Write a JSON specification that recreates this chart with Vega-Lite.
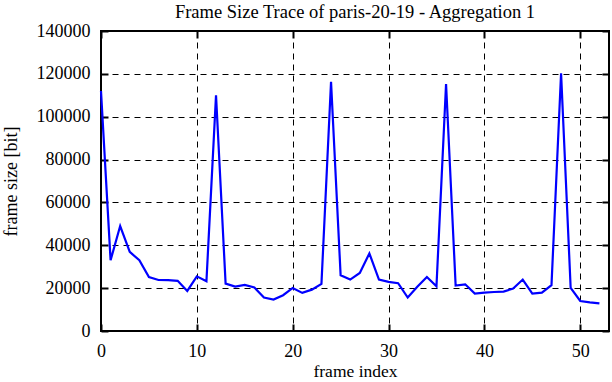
{
  "$schema": "https://vega.github.io/schema/vega-lite/v6.json",
  "width": 508,
  "height": 300,
  "autosize": {"type": "none"},
  "padding": {"left": 101, "top": 31, "right": 3, "bottom": 51},
  "background": "white",
  "title": {"text": "Frame Size Trace of paris-20-19 - Aggregation 1", "font": "Liberation Serif", "fontSize": 18.5, "fontWeight": "normal", "color": "black", "offset": 1},
  "config": {
    "font": "Liberation Serif",
    "view": {"stroke": "black", "strokeWidth": 2},
    "axis": {"labelFont": "Liberation Serif", "titleFont": "Liberation Serif", "labelFontSize": 18, "titleFontSize": 18, "titleFontWeight": "normal", "labelColor": "black", "titleColor": "black", "domain": false, "tickColor": "black", "tickWidth": 2, "tickSize": -7, "gridColor": "black", "gridDash": [6, 5], "gridOpacity": 1, "gridWidth": 1}
  },
  "data": {"values": [
    {"frame": 0, "size": 112000}, {"frame": 1, "size": 33000}, {"frame": 2, "size": 49000}, {"frame": 3, "size": 36900},
    {"frame": 4, "size": 33000}, {"frame": 5, "size": 25200}, {"frame": 6, "size": 23800}, {"frame": 7, "size": 23700},
    {"frame": 8, "size": 23400}, {"frame": 9, "size": 18700}, {"frame": 10, "size": 25500}, {"frame": 11, "size": 23200},
    {"frame": 12, "size": 110000}, {"frame": 13, "size": 22100}, {"frame": 14, "size": 20700}, {"frame": 15, "size": 21500},
    {"frame": 16, "size": 20300}, {"frame": 17, "size": 15600}, {"frame": 18, "size": 14700}, {"frame": 19, "size": 16700},
    {"frame": 20, "size": 20100}, {"frame": 21, "size": 17800}, {"frame": 22, "size": 19300}, {"frame": 23, "size": 22000},
    {"frame": 24, "size": 116300}, {"frame": 25, "size": 26000}, {"frame": 26, "size": 24000}, {"frame": 27, "size": 27100},
    {"frame": 28, "size": 36200}, {"frame": 29, "size": 24000}, {"frame": 30, "size": 22900}, {"frame": 31, "size": 22300},
    {"frame": 32, "size": 15600}, {"frame": 33, "size": 20600}, {"frame": 34, "size": 25200}, {"frame": 35, "size": 20900},
    {"frame": 36, "size": 115300}, {"frame": 37, "size": 21200}, {"frame": 38, "size": 21800}, {"frame": 39, "size": 17500},
    {"frame": 40, "size": 17900}, {"frame": 41, "size": 18200}, {"frame": 42, "size": 18400}, {"frame": 43, "size": 19800},
    {"frame": 44, "size": 24000}, {"frame": 45, "size": 17500}, {"frame": 46, "size": 17900}, {"frame": 47, "size": 21400},
    {"frame": 48, "size": 120300}, {"frame": 49, "size": 20100}, {"frame": 50, "size": 14000}, {"frame": 51, "size": 13400},
    {"frame": 52, "size": 12900}
  ]},
  "layer": [
    {
      "mark": {"type": "line", "color": "#0000ff", "strokeWidth": 2.2},
      "encoding": {
        "x": {"field": "frame", "type": "quantitative", "scale": {"domain": [0, 53], "nice": false}, "axis": {"title": "frame index", "labelFont": "Liberation Serif", "titleFont": "Liberation Serif", "values": [0, 10, 20, 30, 40, 50], "labelPadding": 18, "titlePadding": 2, "titleFontSize": 17.5, "labelFlush": false}},
        "y": {"field": "size", "type": "quantitative", "scale": {"domain": [0, 140000], "nice": false}, "axis": {"title": "frame size [bit]", "labelFont": "Liberation Serif", "titleFont": "Liberation Serif", "values": [0, 20000, 40000, 60000, 80000, 100000, 120000, 140000], "format": "d", "labelPadding": 18, "titlePadding": 16}}
      }
    },
    {
      "mark": {"type": "line", "opacity": 0},
      "encoding": {
        "x": {"field": "frame", "type": "quantitative", "axis": {"orient": "top", "title": null, "labels": false, "grid": false, "values": [0, 10, 20, 30, 40, 50]}},
        "y": {"field": "size", "type": "quantitative", "axis": {"orient": "right", "title": null, "labels": false, "grid": false, "values": [0, 20000, 40000, 60000, 80000, 100000, 120000, 140000]}}
      }
    }
  ],
  "resolve": {"axis": {"x": "independent", "y": "independent"}}
}
